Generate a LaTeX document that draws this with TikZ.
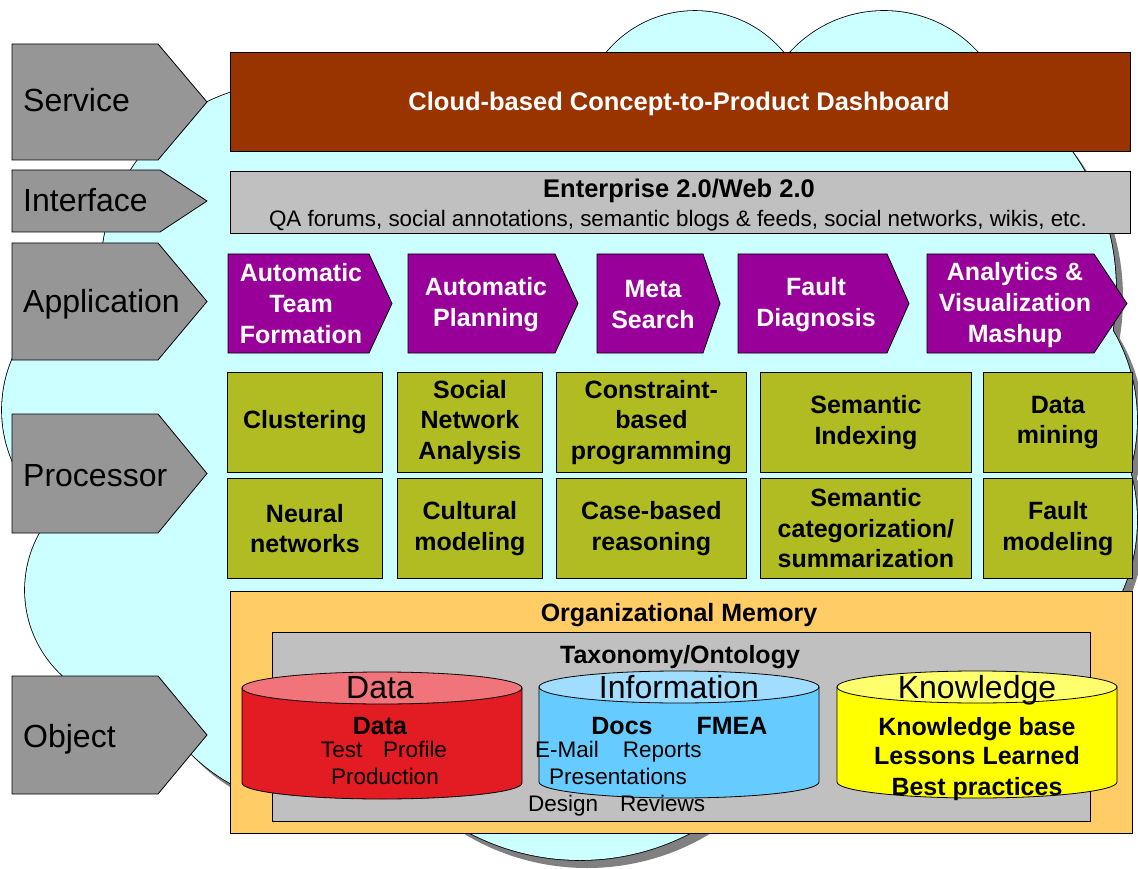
\documentclass[tikz,border=0pt]{standalone}
\usepackage{fontspec}
\setmainfont{Liberation Sans}
\usepackage{tikz}

\definecolor{cloudcyan}{RGB}{204,255,255}
\definecolor{shadowgray}{RGB}{128,128,128}
\definecolor{taggray}{RGB}{150,150,150}
\definecolor{servicebrown}{RGB}{153,51,0}
\definecolor{boxgray}{RGB}{192,192,192}
\definecolor{apppurple}{RGB}{153,0,153}
\definecolor{procgreen}{RGB}{176,188,34}
\definecolor{memorange}{RGB}{255,204,102}
\definecolor{datared}{RGB}{227,27,35}
\definecolor{datatop}{RGB}{240,116,122}
\definecolor{infoblue}{RGB}{102,204,255}
\definecolor{infotop}{RGB}{160,221,255}
\definecolor{knowyellow}{RGB}{255,255,0}
\definecolor{knowtop}{RGB}{255,255,110}

\tikzset{
    tag/.style={
           draw=black, line width=0.8pt,
           fill=taggray,
           },
    tagtext/.style={
           anchor=base west,
           inner sep=0pt,
           font=\fontsize{32}{38}\selectfont,
           },
    app/.style={
           draw=black, line width=0.8pt,
           fill=apppurple,
           },
    apptext/.style={
           inner sep=0pt,
           text=white,
           align=center,
           font=\bfseries\fontsize{25}{31}\selectfont,
           },
    panel/.style={
           rectangle,
           draw=black, line width=0.8pt,
           anchor=north west,
           inner sep=0pt,
           },
    proc/.style={
           panel,
           fill=procgreen,
           minimum height=100pt,
           align=center,
           font=\bfseries\fontsize{25}{30.5}\selectfont,
           },
    boldtext/.style={
           anchor=base,
           inner sep=0pt,
           font=\bfseries\fontsize{25}{31}\selectfont,
           },
    plaintext/.style={
           anchor=base,
           inner sep=0pt,
           font=\fontsize{22.5}{28}\selectfont,
           },
    drumtext/.style={
           anchor=base,
           inner sep=0pt,
           font=\fontsize{32}{38}\selectfont,
           },
}

% centre x / centre y / radius of the bumps of the cloud
\newcommand{\cloudbumps}{290/272/189, 695/126/115, 884/138/127, 876/290/240,
  960/420/177, 960/520/177, 580/622/238, 318/626/180, 141/590/116,
  132/410/130, 470/220/140}

% style, left, top, end of the box part, tip, bottom
\newcommand{\tagshape}[6]{%
  \draw[#1] (#2,#3) -- (#4,#3) -- (#5,{(#3+#6)/2}) -- (#4,#6) -- (#2,#6) -- cycle;}

% body colour, top colour, centre x, top y, bottom y
\newcommand{\drum}[5]{%
  \filldraw[draw=black, line width=0.8pt, fill=#1]
      ({#3-140},#4) -- ({#3-140},#5)
      arc[start angle=180, end angle=0, x radius=140, y radius=16]
      -- ({#3+140},#4) -- cycle;
  \filldraw[draw=black, line width=0.8pt, fill=#2]
      (#3,#4) ellipse[x radius=140, y radius=16];}

\begin{document}
\begin{tikzpicture}[x=1pt, y=-1pt]
    \useasboundingbox (0,0) rectangle (1138,869);

    % cloud: shadow, outline, then a fill over the inner arcs
    \foreach \cx/\cy/\r in \cloudbumps
        \fill[shadowgray] ({\cx+7},{\cy+8}) circle[radius=\r];
    \foreach \cx/\cy/\r in \cloudbumps
        \draw[line width=1.6pt] (\cx,\cy) circle[radius=\r];
    \foreach \cx/\cy/\r in \cloudbumps
        \fill[cloudcyan] (\cx,\cy) circle[radius=\r];
    \fill[cloudcyan] (250,150) rectangle (1000,700);

    % layer tags on the left
    \tagshape{tag}{12}{44}{158}{207}{160}
    \node[tagtext] (service) at (23,112) {Service};
    \tagshape{tag}{12}{170}{160}{207}{232}
    \node[tagtext] (interface) at (23,212) {Interface};
    \tagshape{tag}{12}{243}{158}{207}{360}
    \node[tagtext] (application) at (23,312) {Application};
    \tagshape{tag}{12}{414}{158}{207}{533}
    \node[tagtext] (processor) at (23,486) {Processor};
    \tagshape{tag}{12}{676}{158}{207}{794}
    \node[tagtext] (object) at (23,747) {Object};

    % Service
    \node[panel, fill=servicebrown,
    minimum width=900pt, minimum height=99pt] (dashboard) at (230,52) {};
    \node[boldtext, text=white,
    font=\bfseries\fontsize{25.5}{31}\selectfont] (dashtitle) at (679,111)
    {Cloud-based Concept-to-Product Dashboard};

    % Interface
    \node[panel, fill=boxgray,
    minimum width=900pt, minimum height=62pt] (web) at (230,171) {};
    \node[boldtext, font=\bfseries\fontsize{25.5}{30}\selectfont] (webtitle) at (679,198)
    {Enterprise 2.0/Web 2.0};
    \node[plaintext, font=\fontsize{22.4}{28}\selectfont] (webtools) at (678,226)
    {QA forums, social annotations, semantic blogs \& feeds, social networks, wikis, etc.};

    % Application
    \tagshape{app}{228}{254}{369}{392}{353}
    \node[apptext] (teamform) at (301,304) {Automatic\\Team\\Formation};
    \tagshape{app}{408}{254}{555}{578}{353}
    \node[apptext] (planning) at (486,305) {Automatic\\Planning};
    \tagshape{app}{597}{254}{703}{720}{353}
    \node[apptext] (metasearch) at (653,305) {Meta\\Search};
    \tagshape{app}{738}{254}{887}{909}{353}
    \node[apptext] (faultdiag) at (816,305) {Fault\\Diagnosis};
    \tagshape{app}{927}{254}{1094}{1127}{353}
    \node[apptext] (mashup) at (1015,305) {Analytics \&\\Visualization\\Mashup};

    % Processor, first row
    \node[proc, minimum width=155pt] (clustering) at (227,372) {Clustering};
    \node[proc, minimum width=145pt] (sna) at (397,372) {Social\\Network\\Analysis};
    \node[proc, minimum width=190pt] (constraint) at (556,372) {Constraint-\\based\\programming};
    \node[proc, minimum width=211pt] (semindex) at (760,372) {Semantic\\Indexing};
    \node[proc, minimum width=149pt] (datamining) at (983,372) {Data\\mining};
    % Processor, second row
    \node[proc, minimum width=155pt] (neural) at (227,478) {Neural\\networks};
    \node[proc, minimum width=145pt] (cultural) at (397,478) {Cultural\\modeling};
    \node[proc, minimum width=190pt] (casebased) at (556,478) {Case-based\\reasoning};
    \node[proc, minimum width=211pt] (semcat) at (760,478) {Semantic\\categorization/\\summarization};
    \node[proc, minimum width=149pt] (faultmodel) at (983,478) {Fault\\modeling};

    % Object
    \node[panel, fill=memorange,
    minimum width=902pt, minimum height=242pt] (memory) at (230,591) {};
    \node[boldtext] (memtitle) at (679,621) {Organizational Memory};
    \node[panel, fill=boxgray,
    minimum width=818pt, minimum height=189pt] (ontology) at (272,632) {};
    \node[boldtext] (ontotitle) at (680,663)
    {Taxonomy/Ontology};

    \drum{datared}{datatop}{382}{688}{783}
    \drum{infoblue}{infotop}{679}{687}{782}
    \drum{knowyellow}{knowtop}{977}{687}{782}

    % Data store
    \node[drumtext] (datalabel) at (380,698) {Data};
    \node[boldtext] (datahead) at (380,734) {Data};
    \node[plaintext] (testprofile) at (384,757) {Test\hspace{21pt}Profile};
    \node[plaintext] (production) at (385,784) {Production};

    % Information store
    \node[drumtext] (infolabel) at (679,698) {Information};
    \node[boldtext] (docs) at (622,734) {Docs};
    \node[boldtext] (fmea) at (732,734) {FMEA};
    \node[plaintext, anchor=base west] (mailreports) at (535,757) {E-Mail\hspace{24pt}Reports};
    \node[plaintext, anchor=base west] (presentations) at (549,784) {Presentations};
    \node[plaintext, anchor=base west] (designreviews) at (528,811) {Design\hspace{22pt}Reviews};

    % Knowledge store
    \node[drumtext] (knowlabel) at (977,698) {Knowledge};
    \node[boldtext] (knowbase) at (977,735) {Knowledge base};
    \node[boldtext] (lessons) at (977,764) {Lessons Learned};
    \node[boldtext] (bestpract) at (977,795) {Best practices};
\end{tikzpicture}
\end{document}
